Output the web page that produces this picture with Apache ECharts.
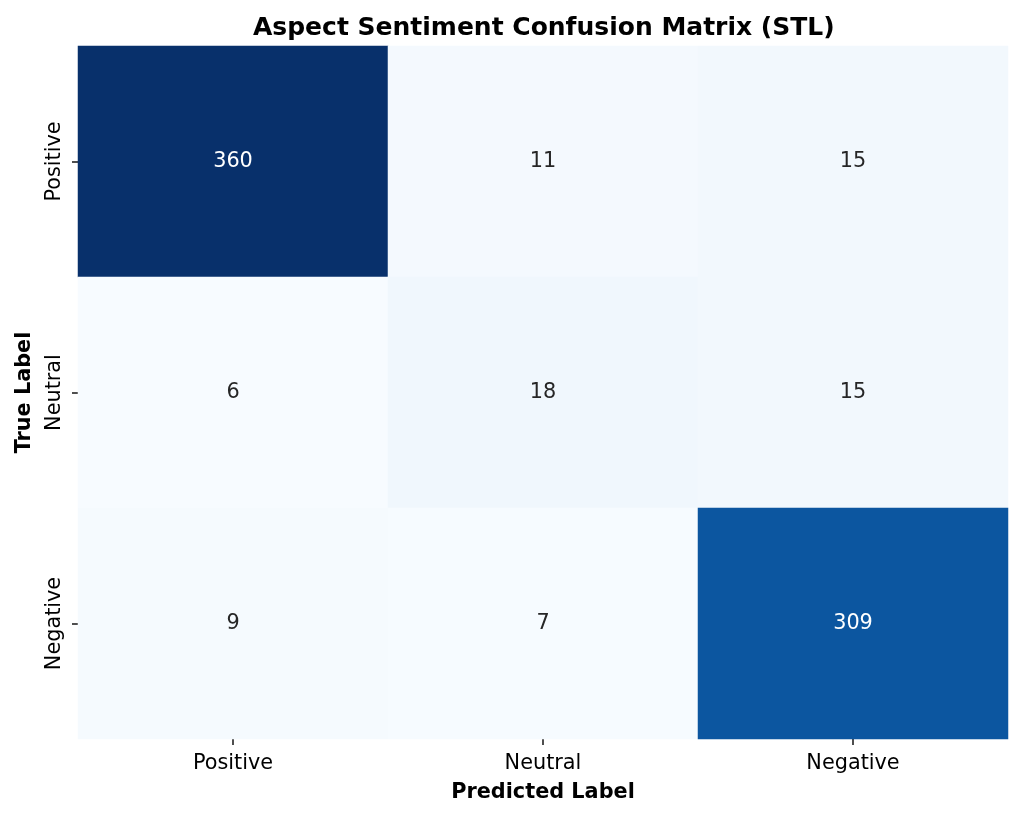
<!DOCTYPE html>
<html>
<head>
<meta charset="utf-8">
<script src="https://cdn.jsdelivr.net/npm/echarts@6/dist/echarts.min.js"></script>
<style>
html,body{margin:0;padding:0;background:#fff;}
#chart{width:1022px;height:817px;}
</style>
</head>
<body>
<div id="chart"></div>
<script>
const predictedLabels = ['Positive', 'Neutral', 'Negative'];
const trueLabels = ['Positive', 'Neutral', 'Negative'];
const rowPositive = [360, 11, 15];
const rowNeutral = [6, 18, 15];
const rowNegative = [9, 7, 309];
const matrix = [rowPositive, rowNeutral, rowNegative];
const bluesColors = ['#f7fbff','#deebf7','#c6dbef','#9ecae1','#6baed6','#4292c6','#2171b5','#08519c','#08306b'];

const allVals = matrix.flat();
const vmin = Math.min(...allVals), vmax = Math.max(...allVals);

const data = [];
matrix.forEach((row, yi) => {
  row.forEach((v, xi) => {
    const t = (v - vmin) / (vmax - vmin);
    data.push({
      value: [xi, yi, v],
      label: { color: t > 0.6 ? '#ffffff' : '#262626' }
    });
  });
});

const font = 'DejaVu Sans';
const chart = echarts.init(document.getElementById('chart'), null, {renderer: 'canvas'});
chart.setOption({
  backgroundColor: '#ffffff',
  animation: false,
  title: {
    text: 'Aspect Sentiment Confusion Matrix (STL)',
    left: 248,
    top: 11,
    textStyle: { fontFamily: font, fontSize: 25, fontWeight: 'bold', color: '#000' }
  },
  grid: { left: 78, right: 14, top: 46, bottom: 78, containLabel: false },
  xAxis: {
    type: 'category',
    data: predictedLabels,
    name: 'Predicted Label',
    nameLocation: 'middle',
    nameGap: 43,
    nameTextStyle: { fontFamily: font, fontSize: 20.8, fontWeight: 'bold', color: '#000' },
    axisLine: { show: false },
    axisTick: { show: true, alignWithLabel: true, length: 6, lineStyle: { color: '#222', width: 1.6 } },
    axisLabel: { fontFamily: font, fontSize: 20.8, color: '#000', margin: 14 },
    splitLine: { show: false },
    splitArea: { show: false }
  },
  yAxis: {
    type: 'category',
    data: trueLabels,
    inverse: true,
    name: 'True Label',
    nameLocation: 'middle',
    nameGap: 43,
    nameRotate: 90,
    nameTextStyle: { fontFamily: font, fontSize: 20.8, fontWeight: 'bold', color: '#000' },
    axisLine: { show: false },
    axisTick: { show: true, alignWithLabel: true, length: 6, lineStyle: { color: '#222', width: 1.6 } },
    axisLabel: { fontFamily: font, fontSize: 20.8, color: '#000', margin: 13, rotate: 90 },
    splitLine: { show: false },
    splitArea: { show: false }
  },
  visualMap: {
    show: false,
    min: vmin,
    max: vmax,
    dimension: 2,
    inRange: { color: bluesColors }
  },
  series: [{
    type: 'heatmap',
    data: data,
    label: { show: true, fontFamily: font, fontSize: 20.8 },
    itemStyle: { borderWidth: 0 },
    emphasis: { disabled: true }
  }]
});
</script>
</body>
</html>
